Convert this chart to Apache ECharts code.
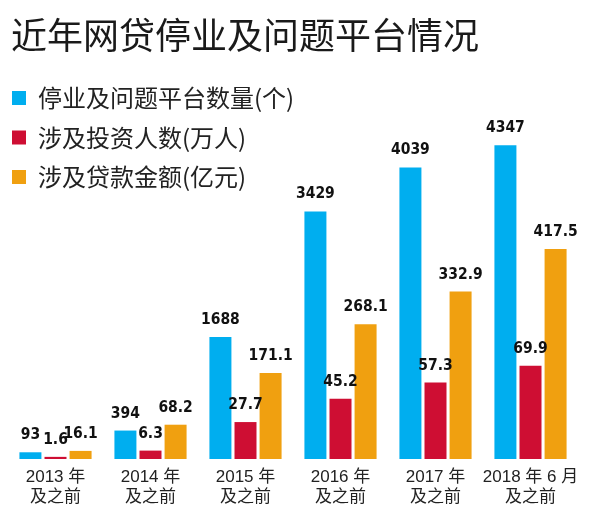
<!DOCTYPE html>
<html>
<head>
<meta charset="utf-8">
<script src="https://cdn.jsdelivr.net/npm/echarts@6/dist/echarts.min.js"></script>
<style>html,body{margin:0;padding:0;background:#fff;}#c{width:590px;height:524px;}</style>
</head>
<body>
<div id="c"></div>
<script>
const categories = ['2013 年\n及之前', '2014 年\n及之前', '2015 年\n及之前', '2016 年\n及之前', '2017 年\n及之前', '2018 年 6 月\n及之前'];
const seriesNames = ['停业及问题平台数量(个)', '涉及投资人数(万人)', '涉及贷款金额(亿元)'];
const platforms = [93, 394, 1688, 3429, 4039, 4347];
const investors = [1.6, 6.3, 27.7, 45.2, 57.3, 69.9];
const amounts = [16.1, 68.2, 171.1, 268.1, 332.9, 417.5];
const colors = ['#00AEEF', '#CE0E33', '#F0A010'];

const chart = echarts.init(document.getElementById('c'), null, {renderer: 'canvas'});
const labelStyle = {
  show: true,
  position: 'top',
  distance: 9,
  fontFamily: '"DejaVu Sans Condensed", "Liberation Sans Narrow", sans-serif',
  fontWeight: 'bold',
  fontSize: 15.5,
  color: '#111'
};
const mk = (i, data) => ({
  name: seriesNames[i],
  type: 'bar',
  yAxisIndex: i,
  data: data,
  barWidth: 22,
  barGap: '14%',
  itemStyle: {color: colors[i]},
  label: labelStyle,
  silent: true
});
chart.setOption({
  animation: false,
  title: {
    text: '近年网贷停业及问题平台情况',
    left: 6,
    top: 12,
    textStyle: {fontFamily: '"Noto Sans CJK SC", sans-serif', fontSize: 36, fontWeight: 'normal', color: '#1a1a1a'}
  },
  legend: {
    orient: 'vertical',
    left: 12,
    top: 85,
    padding: 0,
    itemWidth: 14,
    itemHeight: 14,
    itemGap: 13.5,
    icon: 'rect',
    selectedMode: false,
    textStyle: {fontFamily: '"Noto Sans CJK SC", sans-serif', fontSize: 24, lineHeight: 26, color: '#222', padding: [0, 0, 0, 7]},
    data: seriesNames
  },
  grid: {left: 8, right: 12, top: 99, bottom: 65, containLabel: false},
  xAxis: {
    type: 'category',
    data: categories,
    axisLine: {show: false},
    axisTick: {show: false},
    axisLabel: {
      interval: 0,
      margin: 8,
      fontFamily: '"Liberation Sans", "Noto Sans CJK SC", sans-serif',
      fontSize: 17,
      lineHeight: 20,
      color: '#222'
    }
  },
  yAxis: [
    {type: 'value', show: false, min: 0, max: 4986},
    {type: 'value', show: false, min: 0, max: 270},
    {type: 'value', show: false, min: 0, max: 716}
  ],
  series: [mk(0, platforms), mk(1, investors), mk(2, amounts)]
});
</script>
</body>
</html>
